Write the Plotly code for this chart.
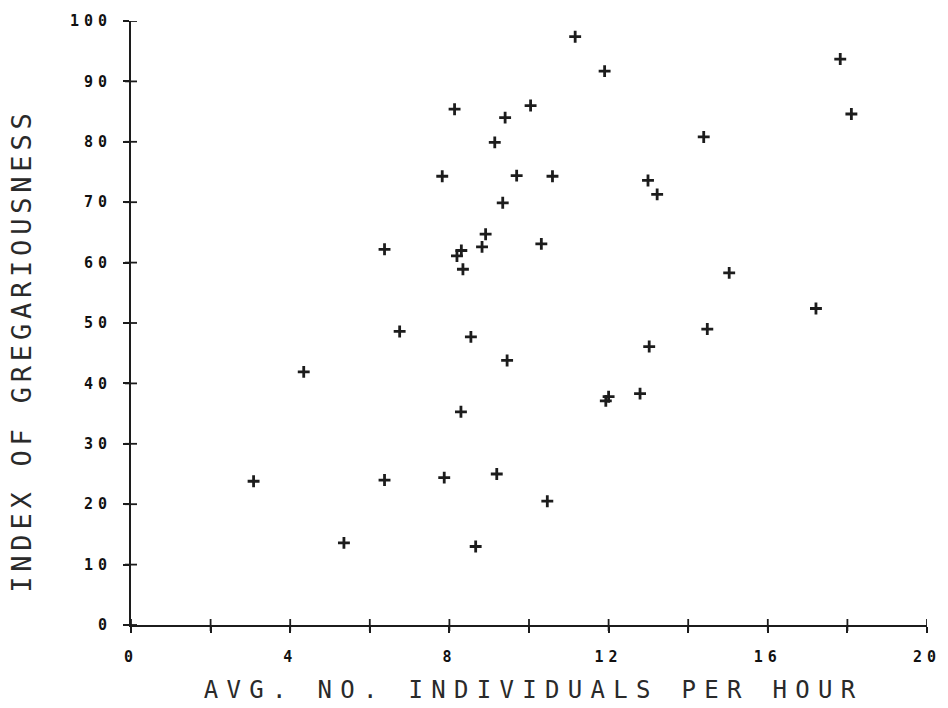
import plotly.graph_objects as go

# Average number of individuals seen per hour vs. index of gregariousness
individuals_per_hour = [
    3.08, 4.34, 5.35, 6.37, 6.37, 6.75, 7.82, 7.87, 8.13, 8.19, 8.30,
    8.34, 8.29, 8.54, 8.66, 8.82, 8.91, 9.14, 9.19, 9.34, 9.40, 9.45,
    9.69, 10.04, 10.31, 10.46, 10.59, 11.16, 11.90, 11.93, 12.00, 12.79,
    12.99, 13.02, 13.22, 14.39, 14.48, 15.03, 17.21, 17.82, 18.10,
]
gregariousness = [
    23.8, 41.9, 13.6, 62.2, 24.0, 48.6, 74.3, 24.4, 85.4, 61.1, 62.0,
    58.9, 35.3, 47.7, 13.0, 62.6, 64.7, 79.9, 25.0, 69.9, 84.0, 43.8,
    74.4, 86.0, 63.1, 20.5, 74.3, 97.4, 91.7, 37.1, 37.8, 38.3,
    73.6, 46.1, 71.3, 80.8, 49.0, 58.3, 52.4, 93.7, 84.6,
]

x_tick_values = [0, 2, 4, 6, 8, 10, 12, 14, 16, 18, 20]
x_tick_labels = ["0", "", "4", "", "8", "", "12", "", "16", "", "20"]
y_tick_values = [0, 10, 20, 30, 40, 50, 60, 70, 80, 90, 100]
y_tick_labels = ["0", "10", "20", "30", "40", "50", "60", "70", "80", "90", "100"]

x_title = "AVG. NO. INDIVIDUALS PER HOUR"
y_title = "INDEX OF GREGARIOUSNESS"

INK = "#1c1c1c"
TICK_LEN = 6
TICK_FONT = dict(family="DejaVu Sans Mono", size=15, color="#111111", weight="bold")
TITLE_FONT = dict(family="DejaVu Sans Mono", size=24, color="#2a2a2a")

fig = go.Figure()

fig.add_trace(go.Scatter(
    x=individuals_per_hour,
    y=gregariousness,
    mode="markers",
    marker=dict(symbol="cross-thin", size=8.5, line=dict(width=2.8, color=INK)),
    hoverinfo="x+y",
    showlegend=False,
))

axis_common = dict(
    showgrid=False,
    zeroline=False,
    ticks="outside",
    ticklen=TICK_LEN,
    tickwidth=1.6,
    tickcolor=INK,
    showline=True,
    linewidth=2,
    linecolor=INK,
    tickfont=TICK_FONT,
    tickmode="array",
)

# tick marks spanning both sides of the axis lines
tick_shapes = []
for v in x_tick_values:
    tick_shapes.append(dict(
        type="line", xref="x", yref="paper", ysizemode="pixel", yanchor=0,
        x0=v, x1=v, y0=-TICK_LEN, y1=TICK_LEN, layer="above",
        line=dict(color=INK, width=1.8),
    ))
for v in y_tick_values:
    tick_shapes.append(dict(
        type="line", xref="paper", yref="y", xsizemode="pixel", xanchor=0,
        x0=-TICK_LEN, x1=TICK_LEN, y0=v, y1=v, layer="above",
        line=dict(color=INK, width=1.8),
    ))

fig.update_layout(
    width=948,
    height=708,
    margin=dict(l=131, r=18, t=16, b=83),
    paper_bgcolor="white",
    plot_bgcolor="white",
    xaxis=dict(
        range=[0, 20],
        tickvals=x_tick_values,
        ticktext=x_tick_labels,
        ticklabelstandoff=11,
        **axis_common,
    ),
    yaxis=dict(
        range=[0, 100],
        tickvals=y_tick_values,
        ticktext=y_tick_labels,
        ticklabelstandoff=8,
        **axis_common,
    ),
    shapes=tick_shapes,
    annotations=[
        dict(
            text=x_title, xref="paper", yref="paper",
            x=0.506, y=-0.108, xanchor="center", yanchor="middle",
            showarrow=False, font=TITLE_FONT,
        ),
        dict(
            text=y_title, xref="paper", yref="paper",
            x=-0.1377, y=0.455, xanchor="center", yanchor="middle",
            textangle=-90, showarrow=False, font=dict(TITLE_FONT, size=27),
        ),
    ],
)

# widen letter spacing of the plotter-style lettering
spacing_js = """
var gd = document.getElementById('{plot_id}');
function spaceText() {
  var ann = gd.querySelectorAll('.annotation-text');
  if (ann.length > 0) { ann[0].style.letterSpacing = '8.3px'; }
  if (ann.length > 1) { ann[1].style.letterSpacing = '4.8px'; }
  gd.querySelectorAll('.xtick text, .ytick text').forEach(function (t) {
    t.style.letterSpacing = '5px';
  });
}
spaceText();
gd.on('plotly_afterplot', spaceText);
setTimeout(spaceText, 50);
"""

fig.write_html("out.html", post_script=spacing_js)
